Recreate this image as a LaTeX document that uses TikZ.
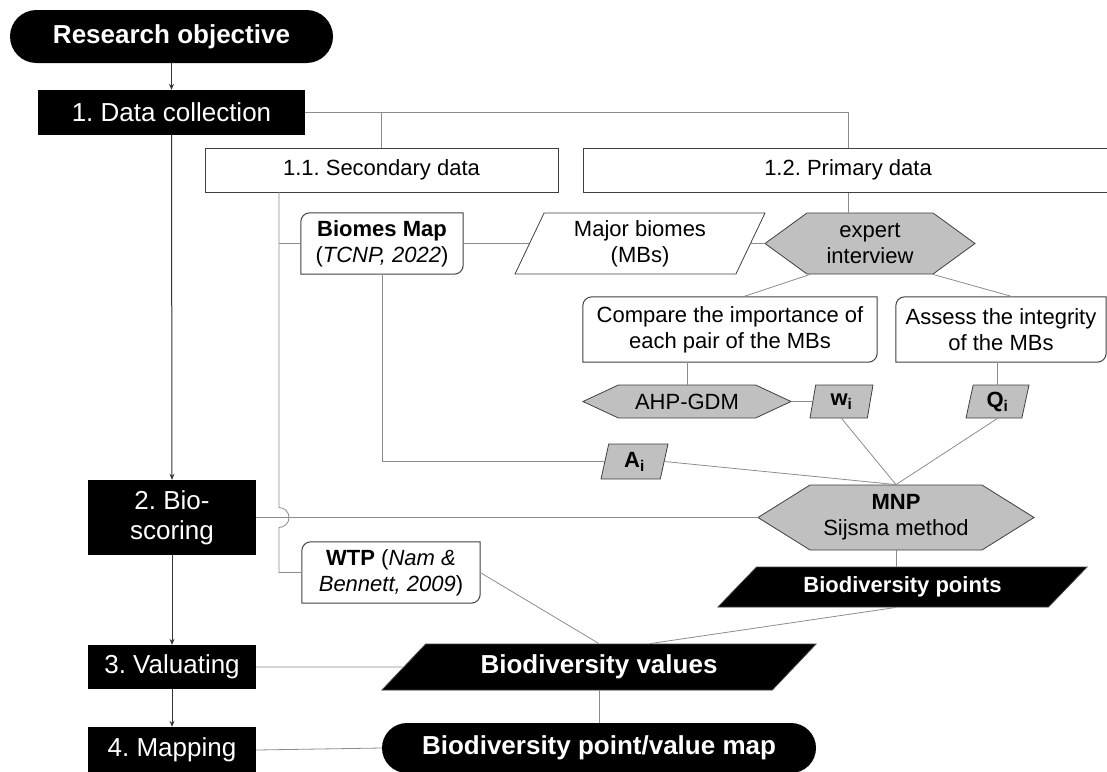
\documentclass[tikz,border=0pt]{standalone}
\usepackage{fontspec}
\setmainfont{Liberation Sans}
\usepackage{tikz}
\usetikzlibrary{arrows.meta}
\usetikzlibrary{shapes.geometric,shapes.misc,shapes.symbols}
\frenchspacing

\definecolor{boxgray}{HTML}{404040}
\definecolor{linegray}{HTML}{8C8C8C}
\definecolor{hexgray}{HTML}{C0C0C0}

% box with round top-left and bottom-right corners
\newcommand{\roundbox}[1]{%
  \draw[boxline] (#1.north east) -- ([xshift=9pt]#1.north west)
    arc[start angle=90,end angle=180,radius=9pt] -- (#1.south west)
    -- ([xshift=-9pt]#1.south east)
    arc[start angle=270,end angle=360,radius=9pt] -- cycle;}

\begin{document}
\begin{tikzpicture}[x=10pt,y=-10pt,
    every node/.style={inner sep=0pt,align=center,font=\fontsize{22}{26}\selectfont},
    big/.style={font=\fontsize{26}{30}\selectfont},
    blackbox/.style={rectangle,fill=black,text=white,big},
    whitebox/.style={rectangle,draw=boxgray,line width=1pt},
    boxline/.style={draw=boxgray,line width=1pt},
    hexa/.style={signal,signal to=east and west,draw=boxgray,fill=hexgray,line width=0.8pt},
    para/.style={trapezium,trapezium stretches body,draw=boxgray,line width=0.8pt},
    link/.style={draw=linegray,line width=0.8pt},
    flow/.style={draw=black!80,line width=1pt,-{Stealth[length=6pt,width=5pt]}}]
    \useasboundingbox (0,0) rectangle (110.7,77.1);
    % left column
    \node[rounded rectangle,fill=black,text=white,big,font=\fontsize{26}{30}\selectfont\bfseries,minimum width=323pt,minimum height=53pt] (obj) at (17.15,3.65) {Research objective};
    \node[blackbox,minimum width=267pt,minimum height=45pt] (dc) at (17.15,11.25) {1. Data collection};
    \node[blackbox,minimum width=168pt,minimum height=75pt] (bio) at (17.2,51.75) {2. Bio-\\scoring};
    \node[blackbox,minimum width=168pt,minimum height=44pt] (val) at (17.2,66.7) {3. Valuating};
    \node[blackbox,minimum width=168pt,minimum height=46pt] (map) at (17.2,75.0) {4. Mapping};
    % data sources
    \node[whitebox,minimum width=353pt,minimum height=44pt] (sec) at (38.15,17.0) {1.1. Secondary data};
    \node[whitebox,minimum width=530pt,minimum height=44pt] (pri) at (84.8,17.0) {1.2. Primary data};
    \node[minimum width=162pt,minimum height=61pt] (bmap) at (38.2,24.35) {\textbf{Biomes Map}\\(\textit{TCNP, 2022})};
    \roundbox{bmap}
    \node[para,fill=white,trapezium left angle=58,trapezium right angle=122,minimum width=250pt,minimum height=61pt] (mb) at (64.0,24.35) {Major biomes\\(MBs)};
    \node[hexa,signal pointer angle=72,minimum width=210pt,minimum height=61pt] (exp) at (87.0,24.35) {expert\\interview};
    \node[minimum width=294pt,minimum height=65pt] (cmp) at (73.0,32.95) {Compare the importance of\\each pair of the MBs};
    \roundbox{cmp}
    \node[minimum width=210pt,minimum height=65pt] (ass) at (100.1,32.95) {Assess the integrity\\of the MBs};
    \roundbox{ass}
    \node[hexa,signal pointer angle=50,minimum width=208pt,minimum height=33pt] (ahp) at (68.7,40.15) {AHP-GDM};
    \node[para,fill=hexgray,trapezium left angle=70,trapezium right angle=110,minimum width=63pt,minimum height=33pt] (w) at (84.15,40.15) {\textbf{w\textsubscript{i}}};
    \node[para,fill=hexgray,trapezium left angle=70,trapezium right angle=110,minimum width=63pt,minimum height=33pt] (q) at (99.75,40.15) {\textbf{Q\textsubscript{i}}};
    \node[para,fill=hexgray,trapezium left angle=68,trapezium right angle=112,minimum width=67pt,minimum height=35pt] (a) at (63.45,46.15) {\textbf{A\textsubscript{i}}};
    \node[hexa,signal pointer angle=64,minimum width=276pt,minimum height=65pt] (mnp) at (89.6,51.75) {\textbf{MNP}\\Sijsma method};
    \node[minimum width=178pt,minimum height=61pt] (wtp) at (39.1,57.25) {\textbf{WTP} (\textit{Nam \&}\\\textit{Bennett, 2009})};
    \roundbox{wtp}
    % results
    \node[para,fill=black,text=white,trapezium left angle=28,trapezium right angle=152,minimum width=369pt,minimum height=40pt,font=\fontsize{22}{26}\selectfont\bfseries] (bpts) at (90.25,58.7) {Biodiversity points};
    \node[para,fill=black,text=white,trapezium left angle=29,trapezium right angle=151,minimum width=434pt,minimum height=46pt,font=\fontsize{26}{30}\selectfont\bfseries] (bval) at (59.9,66.7) {Biodiversity values};
    \node[rounded rectangle,fill=black,text=white,minimum width=434pt,minimum height=50pt,font=\fontsize{26}{30}\selectfont\bfseries] (bmapv) at (59.9,74.8) {Biodiversity point/value map};
    % main flow
    \draw[flow] (obj.south) -- (dc.north);
    \draw[flow] (dc.south) -- (bio.north);
    \draw[flow] (bio.south) -- (val.north);
    \draw[flow] (val.south) -- (map.north);
    % links
    \coordinate (trunk) at (27.9,19.2);
    \coordinate (bvin) at ([xshift=51pt]bval.center);
    \draw[link] (dc.east) -- (pri.north |- dc.east) -- (pri.north);
    \draw[link] (sec.north |- dc.east) -- (sec.north);
    \draw[link] (trunk) -- ([yshift=10pt]trunk |- bio.east) arc[start angle=90,end angle=-90,radius=10pt] -- (trunk |- wtp.west) -- (wtp.west);
    \draw[link] (trunk |- bmap.west) -- (bmap.west);
    \draw[link] (bmap.east) -- (mb.west);
    \draw[link] (mb.east) -- (exp.west);
    \draw[link] (pri.south) -- (pri.south |- exp.north);
    \draw[link] ([xshift=-60pt]exp.south) -- ([xshift=13pt]cmp.north);
    \draw[link] ([xshift=63pt]exp.south) -- ([xshift=12pt]ass.north);
    \draw[link] (cmp.south -| ahp.north) -- (ahp.north);
    \draw[link] (ahp.east) -- (w.west);
    \draw[link] (ass.south -| q.north) -- (q.north);
    \draw[link] (bmap.south) -- (bmap.south |- a.west) -- (a.west);
    \draw[link] (a.east) -- (mnp.north);
    \draw[link] (w.south) -- (mnp.north);
    \draw[link] (q.south) -- (mnp.north);
    \draw[link] (bio.east) -- (mnp.west);
    \draw[link] (mnp.south) -- (mnp.south |- bpts.north);
    \draw[link] (bpts.south -| mnp.south) -- (bvin |- bval.north);
    \draw[link] (wtp.east) -- (bval.center |- bval.north);
    \draw[link] (val.east) -- (bval.west);
    \draw[link] (bval.center |- bval.south) -- (bmapv.north);
    \draw[link] (map.east) -- (bmapv.west);
\end{tikzpicture}
\end{document}
